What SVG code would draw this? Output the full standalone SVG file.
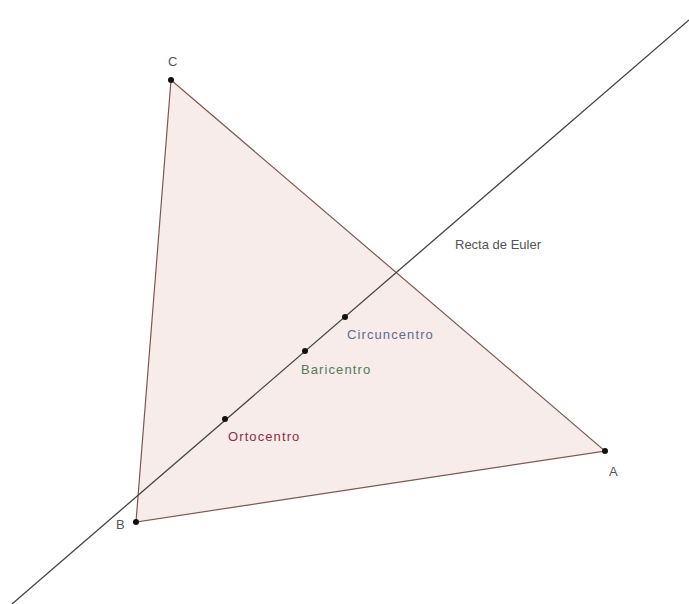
<svg xmlns="http://www.w3.org/2000/svg" width="689" height="604" viewBox="0 0 689 604">
<style>
.lbl{font-family:"Liberation Sans",Arial,sans-serif;font-size:13px}
.sp{letter-spacing:1.1px}
.pt{fill:#111}
</style>
<rect width="689" height="604" fill="#fff"/>
<g id="triangle">
<polygon points="171,80 136,522 605,451" fill="#f7ece9" stroke="#7a5a52" stroke-width="1.2"/>
</g>
<g id="connectors">
<line id="euler-line" x1="12" y1="604" x2="689" y2="20" stroke="#444" stroke-width="1.3"/>
</g>
<g id="C"><circle class="pt" cx="171" cy="80" r="3"/><text class="lbl" x="168" y="66" fill="#555">C</text></g>
<g id="B"><circle class="pt" cx="136" cy="522" r="3"/><text class="lbl" x="116" y="529" fill="#555">B</text></g>
<g id="A"><circle class="pt" cx="605" cy="451" r="3"/><text class="lbl" x="609" y="476" fill="#555">A</text></g>
<g id="euler-label"><text class="lbl" x="455" y="249" fill="#555">Recta de Euler</text></g>
<g id="circuncentro"><circle class="pt" cx="345" cy="317" r="3"/><text class="lbl sp" x="347" y="339" fill="#5c6b8c">Circuncentro</text></g>
<g id="baricentro"><circle class="pt" cx="305" cy="351" r="3"/><text class="lbl sp" x="301" y="374" fill="#4f7d55">Baricentro</text></g>
<g id="ortocentro"><circle class="pt" cx="225" cy="419" r="3"/><text class="lbl sp" x="228" y="441" fill="#8c2f42">Ortocentro</text></g>
</svg>
